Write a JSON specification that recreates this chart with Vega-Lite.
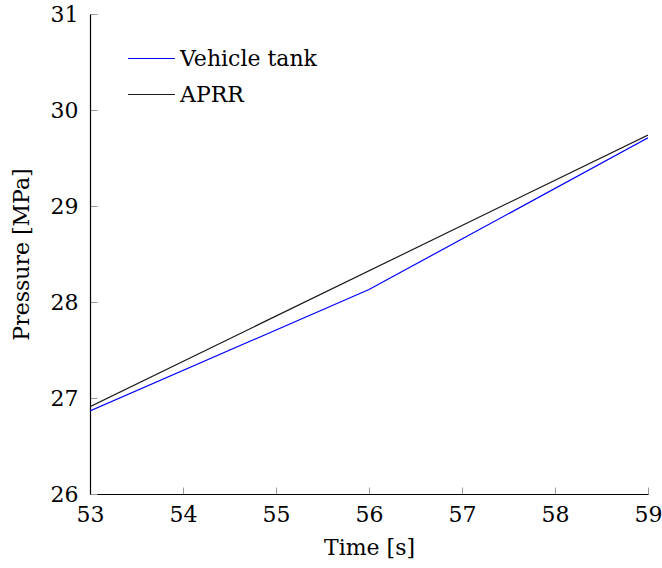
{
  "$schema": "https://vega.github.io/schema/vega-lite/v6.json",
  "autosize": {"type": "none"},
  "padding": {"left": 90, "top": 14, "right": 14, "bottom": 74},
  "width": 558,
  "height": 480,
  "background": "white",
  "config": {
    "font": "DejaVu Serif",
    "view": {"stroke": null},
    "axis": {"grid": false, "domainColor": "black", "domainWidth": 1.2, "ticks": true, "tickSize": -7, "tickColor": "#999999", "tickWidth": 1, "labelFont": "DejaVu Serif", "labelFontSize": 22, "labelColor": "black", "titleFont": "DejaVu Serif", "titleFontSize": 22, "titleFontWeight": "normal", "titleColor": "black"}
  },
  "data": {
    "values": [
      {"time": 53, "pressure": 26.865, "series": "Vehicle tank"},
      {"time": 56, "pressure": 28.13, "series": "Vehicle tank"},
      {"time": 59, "pressure": 29.71, "series": "Vehicle tank"},
      {"time": 53, "pressure": 26.91, "series": "APRR"},
      {"time": 59, "pressure": 29.74, "series": "APRR"}
    ]
  },
  "mark": {"type": "line", "strokeWidth": 1.2, "clip": true},
  "encoding": {
    "x": {"field": "time", "type": "quantitative", "scale": {"domain": [53, 59], "nice": false, "zero": false}, "axis": {"title": "Time [s]", "values": [53, 54, 55, 56, 57, 58, 59], "labelPadding": 17, "titlePadding": 12, "labelFlush": false}},
    "y": {"field": "pressure", "type": "quantitative", "scale": {"domain": [26, 31], "nice": false, "zero": false}, "axis": {"title": "Pressure [MPa]", "values": [26, 27, 28, 29, 30, 31], "labelPadding": 19, "titlePadding": 17, "labelFlush": false}},
    "color": {"field": "series", "type": "nominal", "scale": {"domain": ["Vehicle tank", "APRR"], "range": ["#0000ff", "#1a1a1a"]}, "legend": {"title": null, "orient": "none", "legendX": 37, "legendY": 20, "symbolType": "stroke", "symbolSize": 2200, "symbolStrokeWidth": 1.2, "labelFontSize": 22, "labelFont": "DejaVu Serif", "labelColor": "black", "rowPadding": -16, "labelOffset": 4}}
  }
}
